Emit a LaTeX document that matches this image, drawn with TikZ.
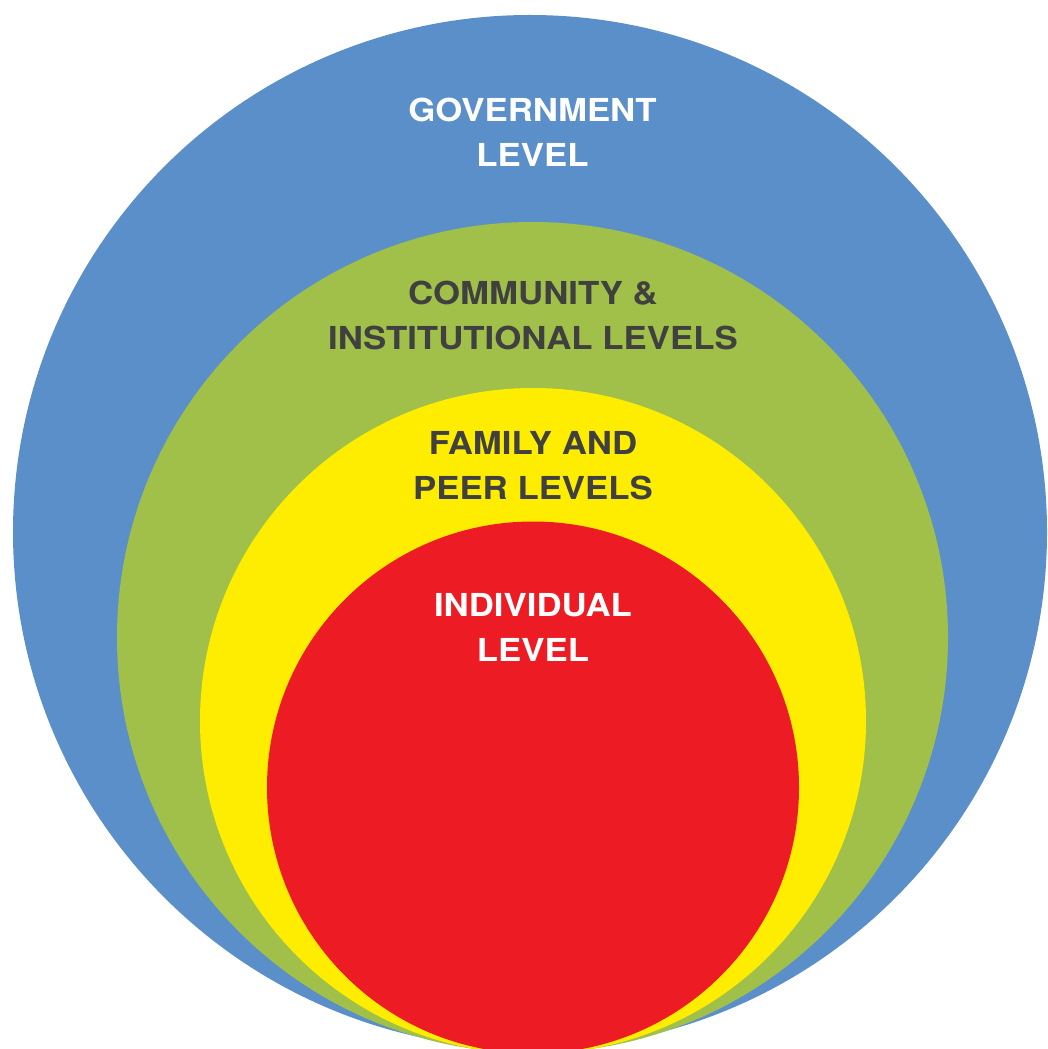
\documentclass[tikz,border=0pt]{standalone}
\usepackage{fontspec}
\newfontfamily\levelfont{TeX Gyre Heros}[FakeStretch=1.1]
\definecolor{govblue}{RGB}{91,143,201}
\definecolor{comgreen}{RGB}{161,192,74}
\definecolor{famyellow}{RGB}{255,237,0}
\definecolor{indred}{RGB}{237,28,36}
\definecolor{darktext}{RGB}{64,64,64}
\begin{document}
\begin{tikzpicture}[x=0.025cm,y=-0.025cm,
  lvl/.style={align=center, inner sep=0pt, font=\levelfont\bfseries\fontsize{22.5}{32}\selectfont}]
\useasboundingbox (0,0) rectangle (1047,1049);
\clip (0,0) rectangle (1047,1049);
\fill[govblue] (530,532) circle (517);
\fill[comgreen] (532.5,637.5) circle (415.5);
\fill[famyellow] (533,721) circle (333);
\fill[indred] (533,787.5) circle (266);
\node[lvl, text=white] (gov) at (532.5,132.5) {GOVERNMENT\\LEVEL};
\node[lvl, text=darktext] (com) at (533,315.5) {COMMUNITY \&\\INSTITUTIONAL LEVELS};
\node[lvl, text=darktext] (fam) at (533,465.5) {FAMILY AND\\PEER LEVELS};
\node[lvl, text=white] (ind) at (533,627.5) {INDIVIDUAL\\LEVEL};
\end{tikzpicture}
\end{document}
